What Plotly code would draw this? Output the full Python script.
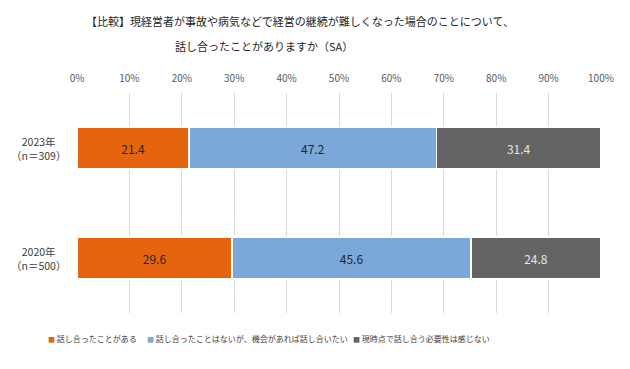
import plotly.graph_objects as go

categories = ["2023年", "2020年"]
sample_sizes = ["（n＝309）", "（n＝500）"]
series_names = ["話し合ったことがある", "話し合ったことはないが、機会があれば話し合いたい", "現時点で話し合う必要性は感じない"]
series_values = [
    [21.4, 29.6],
    [47.2, 45.6],
    [31.4, 24.8],
]
colors = ["#E5650F", "#7BA8D8", "#646464"]
label_colors = ["#262626", "#262626", "#E6E6E6"]
tick_vals = [0, 10, 20, 30, 40, 50, 60, 70, 80, 90, 100]
tick_labels = [f"{v}%" for v in tick_vals]
title_lines = ["【比較】現経営者が事故や病気などで経営の継続が難しくなった場合のことについて、",
               "話し合ったことがありますか（SA）"]

FONT = "Noto Sans CJK JP"
W, H = 630, 369
OFF = 8  # page body margin offset
ML, MT = 77 - OFF, 93 - OFF
MR = W - (601 - OFF)
MB = H - (313 - OFF)
PW = W - ML - MR
PH = H - MT - MB


def px_x(px):
    return (px - OFF - ML) / PW


def px_y(py):
    return 1 - (py - OFF - MT) / PH


fig = go.Figure()
for name, vals, col, lcol in zip(series_names, series_values, colors, label_colors):
    fig.add_trace(go.Bar(
        y=categories, x=vals, name=name, orientation="h",
        marker=dict(color=col, line=dict(color="white", width=1.5)),
        text=[f"{v:.1f}" for v in vals], textposition="inside",
        insidetextanchor="middle", constraintext="none",
        textfont=dict(family=FONT, size=12, color=lcol),
        hoverinfo="skip", showlegend=False,
    ))

annotations = []
# category labels
for cat, n in zip(categories, sample_sizes):
    annotations.append(dict(
        x=px_x(38), xref="paper", y=cat, yref="y", xanchor="center", yanchor="middle",
        text=f"{cat}<br>{n}", showarrow=False, align="center",
        font=dict(family=FONT, size=10.5, color="#404040"),
    ))

# title lines
for line, cx, cy in zip(title_lines, [300, 264], [21, 46]):
    annotations.append(dict(
        x=px_x(cx), xref="paper", y=px_y(cy), yref="paper", xanchor="center", yanchor="middle",
        text=line, showarrow=False,
        font=dict(family=FONT, size=11, color="#262626"),
    ))

# legend entries
LEG_FS = 8
leg_x = [46, 145, 351]
for name, col, lx in zip(series_names, colors, leg_x):
    annotations.append(dict(
        x=px_x(lx), xref="paper", y=px_y(338), yref="paper", xanchor="left", yanchor="middle",
        text=f"<span style='color:{col};font-size:7px'>■</span> {name}",
        showarrow=False,
        font=dict(family=FONT, size=LEG_FS, color="#404040"),
    ))

fig.update_layout(
    width=W, height=H,
    barmode="stack", bargap=0.62,
    paper_bgcolor="white", plot_bgcolor="white",
    margin=dict(l=ML, r=MR, t=MT, b=MB, autoexpand=False),
    font=dict(family=FONT, color="#595959"),
    showlegend=False,
    xaxis=dict(
        side="top", range=[0, 100], tickvals=tick_vals, ticktext=tick_labels,
        showgrid=True, gridcolor="#D9D9D9", gridwidth=1, zeroline=False,
        showline=False, ticks="", ticklabelstandoff=8,
        tickfont=dict(family=FONT, size=10, color="#595959"),
        automargin=False,
    ),
    yaxis=dict(
        categoryorder="array", categoryarray=categories,
        range=[1.5, -0.5], showticklabels=False, showgrid=False, zeroline=False,
        ticks="", automargin=False,
    ),
    annotations=annotations,
)

fig.write_html("out.html")
